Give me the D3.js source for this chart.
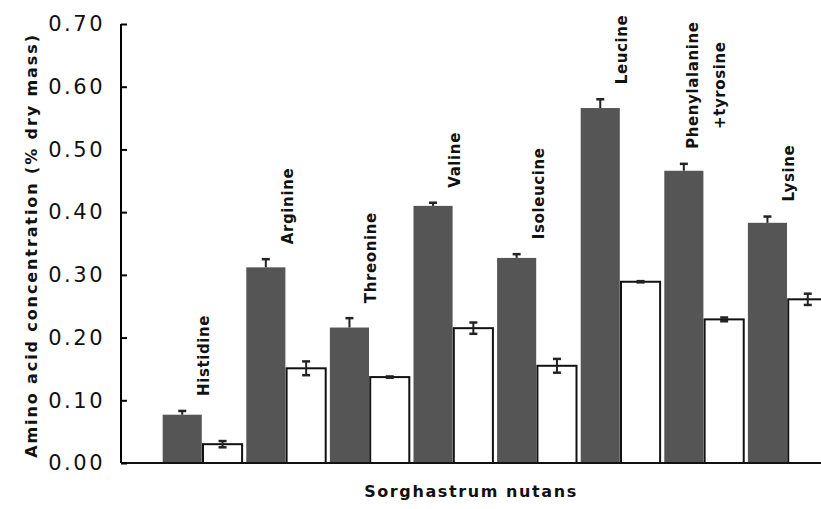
<!DOCTYPE html>
<html>
<head>
<meta charset="utf-8">
<script src="https://cdn.jsdelivr.net/npm/d3@7"></script>
<style>
  body { margin: 0; background: #fff; }
  svg text { font-family: "DejaVu Sans", sans-serif; font-weight: bold; fill: #111; }
</style>
</head>
<body>
<div id="chart"></div>
<script>
// amino acids, dark = first series, white = second series
var categories = ['Histidine', 'Arginine', 'Threonine', 'Valine', 'Isoleucine', 'Leucine', 'Phenylalanine|+tyrosine', 'Lysine'];
var darkValues = [0.077, 0.312, 0.216, 0.410, 0.327, 0.566, 0.466, 0.383];
var darkErrors = [0.006, 0.013, 0.015, 0.005, 0.006, 0.014, 0.011, 0.010];
var whiteValues = [0.030, 0.151, 0.137, 0.215, 0.155, 0.289, 0.229, 0.261];
var whiteErrors = [0.005, 0.011, 0.001, 0.009, 0.011, 0.001, 0.003, 0.009];
var yTicks = [0, 0.1, 0.2, 0.3, 0.4, 0.5, 0.6, 0.7];

var svgWidth = 821;
var svgHeight = 509;
var axisX = 121;
var color = { dark: '#555555', white: '#ffffff' };

var y = d3.scaleLinear().domain([0, 0.7]).range([463, 24]);
// the plot runs past the right edge of the picture
var x = d3.scaleBand().domain(categories).range([161, 829]).paddingInner(0.05).paddingOuter(0.02);
var sub = d3.scaleBand().domain(['dark', 'white']).range([0, x.bandwidth()]).paddingInner(0.03);

var data = categories.map(function(c, i) {
	return { cat: c, dark: darkValues[i], darkErr: darkErrors[i], white: whiteValues[i], whiteErr: whiteErrors[i] };
});

var svg = d3.select('#chart').append('svg')
	.attr('width', svgWidth).attr('height', svgHeight);

// bars
var groups = svg.selectAll('.group').data(data)
	.enter().append('g')
	.attr('class', 'group')
	.attr('transform', function(d) { return 'translate(' + x(d.cat) + ',0)'; });

groups.append('rect')
	.attr('x', sub('dark'))
	.attr('width', sub.bandwidth())
	.attr('y', function(d) { return y(d.dark); })
	.attr('height', function(d) { return y(0) - y(d.dark); })
	.style('fill', color.dark);

groups.append('rect')
	.attr('x', sub('white'))
	.attr('width', sub.bandwidth())
	.attr('y', function(d) { return y(d.white); })
	.attr('height', function(d) { return y(0) - y(d.white); })
	.style('fill', color.white).style('stroke', '#111').style('stroke-width', 2);

// error bars (on the dark bars only the upper half shows)
function errBar(g, key, errKey, lowSide) {
	var cx = sub(key) + sub.bandwidth() / 2;
	g.append('line')
		.attr('x1', cx).attr('x2', cx)
		.attr('y1', function(d) { return y(d[key] + d[errKey]); })
		.attr('y2', function(d) { return y(d[key] - (lowSide ? d[errKey] : 0)); })
		.style('stroke', '#222').style('stroke-width', 2);
	(lowSide ? [1, -1] : [1]).forEach(function(s) {
		g.append('line')
			.attr('x1', cx - 4).attr('x2', cx + 4)
			.attr('y1', function(d) { return y(d[key] + s * d[errKey]); })
			.attr('y2', function(d) { return y(d[key] + s * d[errKey]); })
			.style('stroke', '#222').style('stroke-width', 2.5);
	});
}
errBar(groups, 'dark', 'darkErr', false);
errBar(groups, 'white', 'whiteErr', true);

// rotated bar labels
groups.each(function(d) {
	var g = d3.select(this);
	var lx = sub('white') + 1;
	var ly = y(d.dark + d.darkErr) - 15;
	var lines = d.cat.split('|');
	var t = g.append('text')
		.attr('transform', 'translate(' + lx + ',' + ly + ') rotate(-90)')
		.attr('dy', '0.35em')
		.style('font-size', '15px').style('letter-spacing', '0.6px')
		.text(lines[0]);
	if (lines.length > 1) {
		var len = t.node().getComputedTextLength();
		t.attr('transform', 'translate(' + (lx - 13) + ',' + ly + ') rotate(-90)');
		g.append('text')
			.attr('transform', 'translate(' + (lx + 14) + ',' + (ly - len / 2) + ') rotate(-90)')
			.attr('dy', '0.35em').attr('text-anchor', 'middle')
			.style('font-size', '15px').style('letter-spacing', '0.6px')
			.text(lines[1]);
	}
});

// axes
svg.append('line')
	.attr('x1', axisX).attr('x2', svgWidth)
	.attr('y1', y(0)).attr('y2', y(0))
	.style('stroke', '#111').style('stroke-width', 2);

var yAxis = svg.append('g')
	.attr('transform', 'translate(' + axisX + ',0)')
	.call(d3.axisRight(y).tickValues(yTicks).tickSize(6).tickFormat(d3.format('.2f')));
yAxis.select('.domain').style('stroke-width', 2).attr('d', 'M0,' + y(0.7) + 'V' + y(0));
yAxis.selectAll('.tick line').style('stroke-width', 2);
yAxis.selectAll('.tick text')
	.attr('x', -16).attr('text-anchor', 'end')
	.style('font-size', '21px').style('letter-spacing', '2.5px')
	.style('font-family', '"DejaVu Sans", sans-serif').style('font-weight', '500');

svg.append('text')
	.attr('transform', 'translate(31,' + (y(0.35) + 2) + ') rotate(-90)')
	.attr('text-anchor', 'middle').attr('dy', '0.35em')
	.style('font-size', '16px').style('letter-spacing', '1.9px')
	.text('Amino acid concentration (% dry mass)');

svg.append('text')
	.attr('x', 471).attr('y', 497)
	.attr('text-anchor', 'middle')
	.style('font-size', '16px').style('letter-spacing', '1.6px')
	.text('Sorghastrum nutans');
</script>
</body>
</html>
